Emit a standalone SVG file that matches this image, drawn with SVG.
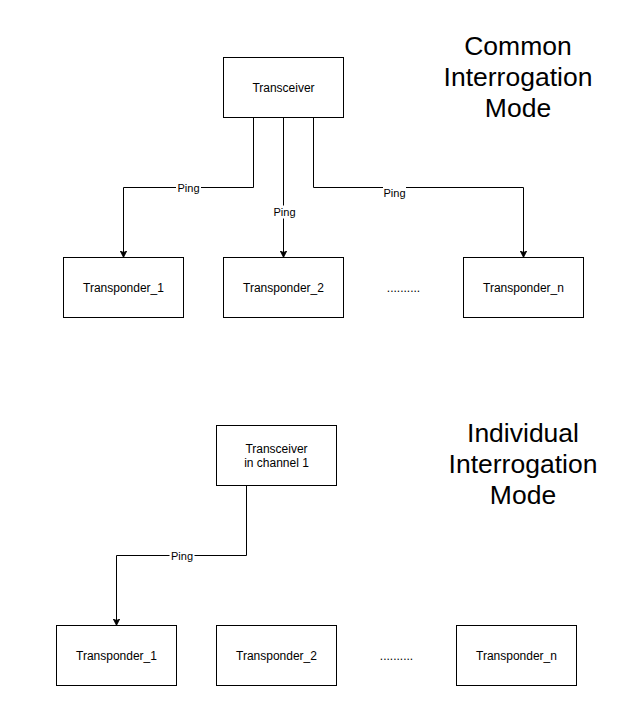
<svg xmlns="http://www.w3.org/2000/svg" width="636" height="710" viewBox="0 0 636 710">
<style>
.box{fill:#fff;stroke:#000;stroke-width:1}
.t{font-family:"Liberation Sans",Arial,sans-serif;font-size:12px;fill:#000;text-anchor:middle}
.lbl{font-family:"Liberation Sans",Arial,sans-serif;font-size:11px;fill:#000;text-anchor:middle}
.title{font-family:"Liberation Sans",Arial,sans-serif;font-size:26.5px;fill:#000;text-anchor:middle}
.edge{fill:none;stroke:#000;stroke-width:1}
.bg{fill:#fff}
</style>
<defs>
<marker id="arr" viewBox="0 0 10 10" refX="10" refY="5" markerWidth="7" markerHeight="7" markerUnits="userSpaceOnUse" orient="auto">
<path d="M0,0 L10,5 L0,10 L3,5 Z" fill="#000" stroke="#000" stroke-width="1"/>
</marker>
</defs>
<rect width="636" height="710" fill="#fff"/>

<g id="title-common">
<text class="title" x="518" y="55">Common</text>
<text class="title" x="518" y="86">Interrogation</text>
<text class="title" x="518" y="117">Mode</text>
</g>
<g id="title-individual">
<text class="title" x="523" y="442">Individual</text>
<text class="title" x="523" y="473">Interrogation</text>
<text class="title" x="523" y="504">Mode</text>
</g>

<g id="connectors">
<path class="edge" d="M253.5,117.5 V187.5 H123.5 V257.5" marker-end="url(#arr)"/>
<path class="edge" d="M283.5,117.5 V257.5" marker-end="url(#arr)"/>
<path class="edge" d="M313.5,117.5 V187.5 H523.5 V257.5" marker-end="url(#arr)"/>
<path class="edge" d="M246.5,485.5 V555.5 H116.5 V625.5" marker-end="url(#arr)"/>
<rect class="bg" x="176" y="181" width="25" height="13"/>
<text class="lbl" x="188.5" y="191.5">Ping</text>
<rect class="bg" x="272" y="205.5" width="25" height="13"/>
<text class="lbl" x="284.5" y="216">Ping</text>
<rect class="bg" x="383" y="187" width="23" height="12"/>
<text class="lbl" x="394.5" y="197">Ping</text>
<rect class="bg" x="169.5" y="549" width="25" height="13"/>
<text class="lbl" x="182" y="559.5">Ping</text>
</g>

<g id="transceiver">
<rect class="box" x="223.5" y="57.5" width="120" height="60"/>
<text class="t" x="283.5" y="91.5">Transceiver</text>
</g>
<g id="c-transponder1">
<rect class="box" x="63.5" y="257.5" width="120" height="60"/>
<text class="t" x="123.5" y="291.5">Transponder_1</text>
</g>
<g id="c-transponder2">
<rect class="box" x="223.5" y="257.5" width="120" height="60"/>
<text class="t" x="283.5" y="291.5">Transponder_2</text>
</g>
<g id="c-dots">
<text class="t" x="403.5" y="291.5">..........</text>
</g>
<g id="c-transpondern">
<rect class="box" x="463.5" y="257.5" width="120" height="60"/>
<text class="t" x="523.5" y="291.5">Transponder_n</text>
</g>

<g id="transceiver-ch1">
<rect class="box" x="216.5" y="425.5" width="120" height="60"/>
<text class="t" x="276.5" y="452.5">Transceiver</text>
<text class="t" x="276.5" y="466.5">in channel 1</text>
</g>
<g id="i-transponder1">
<rect class="box" x="56.5" y="625.5" width="120" height="60"/>
<text class="t" x="116.5" y="659.5">Transponder_1</text>
</g>
<g id="i-transponder2">
<rect class="box" x="216.5" y="625.5" width="120" height="60"/>
<text class="t" x="276.5" y="659.5">Transponder_2</text>
</g>
<g id="i-dots">
<text class="t" x="396.5" y="659.5">..........</text>
</g>
<g id="i-transpondern">
<rect class="box" x="456.5" y="625.5" width="120" height="60"/>
<text class="t" x="516.5" y="659.5">Transponder_n</text>
</g>
</svg>
